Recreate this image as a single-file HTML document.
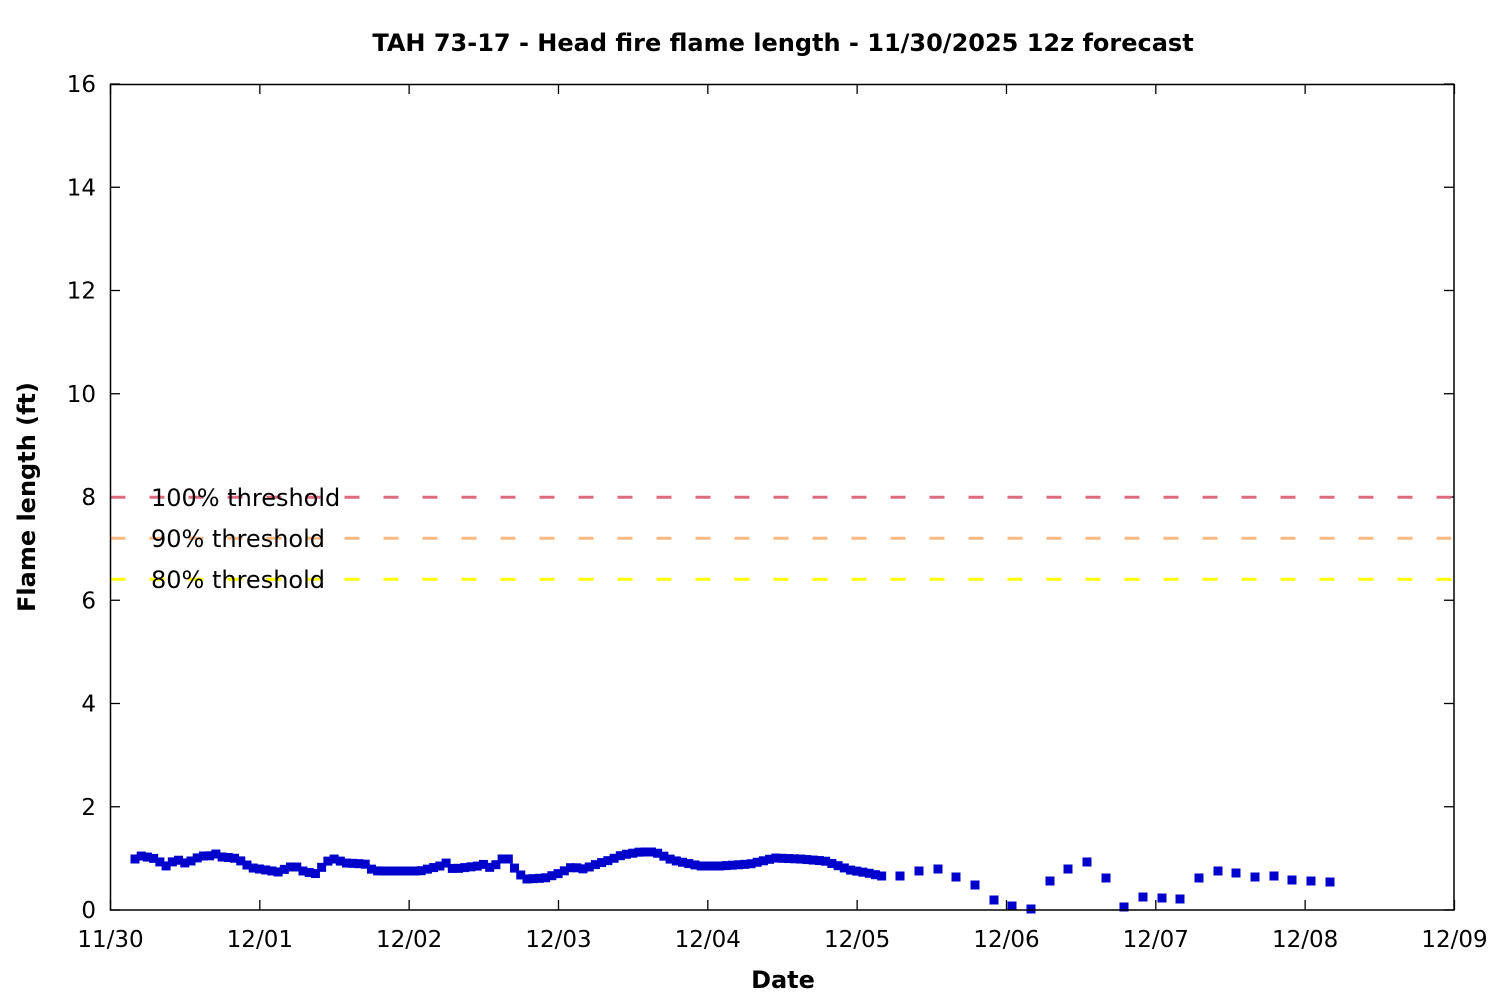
<!DOCTYPE html>
<html><head><meta charset="utf-8"><style>
html,body{margin:0;padding:0;background:#fff;}
svg{display:block;font-family:"DejaVu Sans","Liberation Sans",sans-serif;}
</style></head><body>
<svg id="s" width="1500" height="1000" xmlns="http://www.w3.org/2000/svg">
<rect width="1500" height="1000" fill="#fff"/>
<text x="783" y="51" text-anchor="middle" font-size="24" font-weight="bold">TAH 73-17 - Head fire flame length - 11/30/2025 12z forecast</text>
<g id="grid" stroke="#000" stroke-width="1.3"></g>
<g id="lbl" font-size="23" fill="#000"></g>
<text x="783" y="988" text-anchor="middle" font-size="24" font-weight="bold">Date</text>
<text transform="translate(35,497) rotate(-90)" text-anchor="middle" font-size="24" font-weight="bold">Flame length (ft)</text>
<g stroke-width="3" stroke-dasharray="15 24">
<line x1="110.5" y1="497.3" x2="1454" y2="497.3" stroke="#dd6a80"/>
<line x1="110.5" y1="538.3" x2="1454" y2="538.3" stroke="#ffb880"/>
<line x1="110.5" y1="579.3" x2="1454" y2="579.3" stroke="#ffff00"/>
</g>
<g font-size="24" fill="#000">
<text x="151" y="506">100% threshold</text>
<text x="151" y="547">90% threshold</text>
<text x="151" y="588">80% threshold</text>
</g>
<g id="pts" fill="#0000cc"></g>
<rect x="110.5" y="84.5" width="1343.5" height="825.5" fill="none" stroke="#000" stroke-width="1.5"/>
</svg>
<script>
var ns="http://www.w3.org/2000/svg",g=document.getElementById('grid'),l=document.getElementById('lbl'),p=document.getElementById('pts');
function el(t,a,par){var e=document.createElementNS(ns,t);for(var k in a)e.setAttribute(k,a[k]);par.appendChild(e);return e;}
for(var i=0;i<=8;i++){var y=910-i*2*51.625;
el('line',{x1:110,y1:y,x2:120,y2:y},g);el('line',{x1:1444,y1:y,x2:1454,y2:y},g);
var t=el('text',{x:96,y:y+8,'text-anchor':'end'},l);t.textContent=String(i*2);}
var days=['11/30','12/01','12/02','12/03','12/04','12/05','12/06','12/07','12/08','12/09'];
for(var i=0;i<=9;i++){var x=110.5+i*149.33;
el('line',{x1:x,y1:910,x2:x,y2:900},g);el('line',{x1:x,y1:84,x2:x,y2:94},g);
var t=el('text',{x:x,y:947,'text-anchor':'middle'},l);t.textContent=days[i];}
var k=[[135,859],[141,856],[147,857],[153,858],[160,862],[166,866],[172,862],[178,860],[185,863],[191,861],[197,858],[203,856],[209,856],[216,854],[222,857],[234,858],[241,861],[247,865],[253,868],[266,870],[278,872],[290,867],[297,867],[303,871],[315,874],[322,867],[328,861],[334,859],[346,863],[365,864],[371,869],[378,871],[420,871],[440,866],[446,863],[453,869],[478,866],[485,864],[492,869],[501,859],[510,859],[516,871],[522,876],[527,879],[545,878],[560,873],[572,867],[584,869],[597,864],[610,860],[622,855],[640,852],[655,852],[672,860],[700,866],[720,866],[750,864],[775,858],[800,859],[825,861],[850,870],[868,873],[881,876]];
function interp(x){for(var i=0;i<k.length-1;i++){if(x>=k[i][0]&&x<=k[i+1][0]){var f=(x-k[i][0])/(k[i+1][0]-k[i][0]);return k[i][1]+f*(k[i+1][1]-k[i][1]);}}return k[k.length-1][1];}
for(var h=0;h<=120;h++){var x=135+h*6.222;if(x>882)break;var y=interp(x);el('rect',{x:x-4.5,y:y-4.5,width:9,height:9},p);}
var s=[[900,876],[919,871],[938,869],[956,877],[975,885],[994,900],[1012,906],[1031,909],[1050,881],[1068,869],[1087,862],[1106,878],[1124,907],[1143,897],[1162,898],[1180,899],[1199,878],[1218,871],[1236,873],[1255,877],[1274,876],[1292,880],[1311,881],[1330,882]];
s.forEach(function(q){el('rect',{x:q[0]-4.5,y:q[1]-4.5,width:9,height:9},p);});
</script>
</body></html>
